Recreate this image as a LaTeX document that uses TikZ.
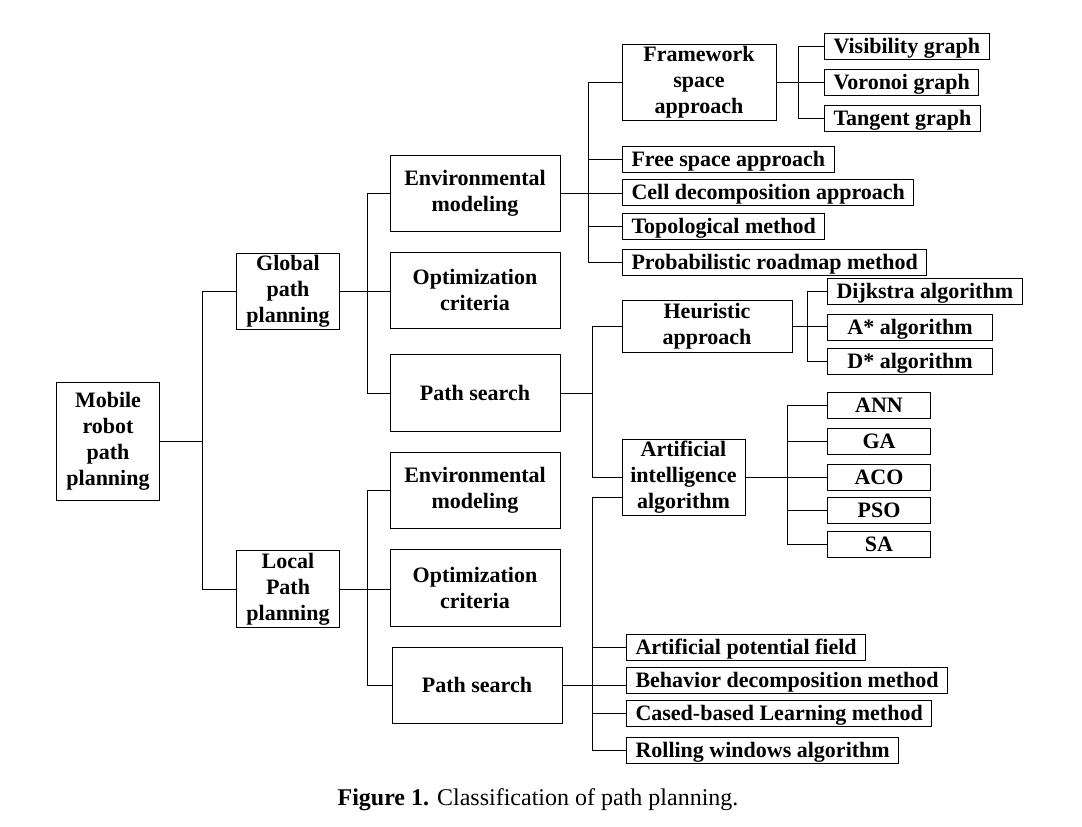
\documentclass[tikz,border=0pt]{standalone}
\usepackage{fontspec}
\setmainfont{Liberation Serif}
\usetikzlibrary{positioning}

\begin{document}
\begin{tikzpicture}[x=1pt,y=-1pt,
    box/.style={draw, line width=1pt, align=center, inner sep=0pt, font=\bfseries\fontsize{22}{26}\selectfont},
    leaf/.style={draw, line width=1pt, anchor=west, inner xsep=9pt, inner ysep=0pt, minimum height=26, text height=19pt, text depth=4pt, font=\bfseries\fontsize{22}{26}\selectfont},
    link/.style={line width=0.9pt}]
    \useasboundingbox (0,0) rectangle (1082,827);

    % first and second level
    \node[box, minimum width=103, minimum height=118] (root) at (108,441) {Mobile\\robot\\path\\planning};
    \node[box, minimum width=103, minimum height=76] (glob) at (288,291) {Global\\path\\planning};
    \node[box, minimum width=103, minimum height=77] (loc) at (288,589) {Local\\Path\\planning};

    % third level
    \node[box, minimum width=170, minimum height=76] (env1) at (475,193) {Environmental\\modeling};
    \node[box, minimum width=170, minimum height=76] (opt1) at (475,290) {Optimization\\criteria};
    \node[box, minimum width=170, minimum height=77] (ps1) at (475,393) {Path search};
    \node[box, minimum width=170, minimum height=76] (env2) at (475,490) {Environmental\\modeling};
    \node[box, minimum width=170, minimum height=77] (opt2) at (475,588) {Optimization\\criteria};
    \node[box, minimum width=170, minimum height=76] (ps2) at (477,685) {Path search};

    % environmental modeling branch
    \node[box, minimum width=154, minimum height=76] (fw) at (699,82) {Framework\\space\\approach};
    \node[leaf] (free) at (622,159) {Free space approach};
    \node[leaf] (cell) at (622,192) {Cell decomposition approach};
    \node[leaf] (topo) at (622,226) {Topological method};
    \node[leaf] (prob) at (622,262) {Probabilistic roadmap method};
    \node[leaf] (vis) at (824,46) {Visibility graph};
    \node[leaf, minimum width=152] (voro) at (824,82) {Voronoi graph};
    \node[leaf, minimum width=152] (tang) at (824,118) {Tangent graph};

    % path search branch
    \node[box, minimum width=170, minimum height=52] (heur) at (707,326) {Heuristic\\approach};
    \node[box, minimum width=123, minimum height=76] (ai) at (683.5,477) {Artificial\\intelligence\\algorithm};
    \node[leaf] (dijk) at (827,291) {Dijkstra algorithm};
    \node[leaf, minimum width=165] (astar) at (827,327) {A* algorithm};
    \node[leaf, minimum width=165] (dstar) at (827,361) {D* algorithm};
    \node[leaf, minimum width=103] (ann) at (827,405) {ANN};
    \node[leaf, minimum width=103] (ga) at (827,441) {GA};
    \node[leaf, minimum width=103] (aco) at (827,477) {ACO};
    \node[leaf, minimum width=103] (pso) at (827,510) {PSO};
    \node[leaf, minimum width=103] (sa) at (827,544) {SA};
    \node[leaf] (apf) at (626,647) {Artificial potential field};
    \node[leaf] (beh) at (626,680) {Behavior decomposition method};
    \node[leaf] (case) at (626,713) {Cased-based Learning method};
    \node[leaf] (roll) at (626,750) {Rolling windows algorithm};

    \node (cap) at (538,800) {\fontsize{24}{28}\selectfont\textbf{Figure 1.} Classification of path planning.};

    % connectors
    \draw[link] (root.east) -- ++(42,0) coordinate (j0) |- (glob.west);
    \draw[link] (j0) |- (loc.west);

    \draw[link] (glob.east) -- (glob.east -| opt1.west);
    \coordinate (j1) at ([xshift=27pt]glob.east);
    \foreach \n in {env1,ps1} \draw[link] (j1) |- (\n.west);

    \draw[link] (loc.east) -- (loc.east -| opt2.west);
    \coordinate (j7) at ([xshift=27pt]loc.east);
    \foreach \n in {env2,ps2} \draw[link] (j7) |- (\n.west);

    \draw[link] (env1.east) -- (env1.east -| cell.west);
    \coordinate (j2) at ([xshift=28pt]env1.east);
    \foreach \n in {fw,free,topo,prob} \draw[link] (j2) |- (\n.west);

    \draw[link] (fw.east) -- (fw.east -| voro.west);
    \coordinate (j3) at ([xshift=22pt]fw.east);
    \foreach \n in {vis,tang} \draw[link] (j3) |- (\n.west);

    \draw[link] (ps1.east) -- ++(32,0) coordinate (j4);
    \foreach \n in {heur,ai} \draw[link] (j4) |- (\n.west);

    \draw[link] (heur.east) -- (heur.east -| astar.west);
    \coordinate (j5) at ([xshift=15pt]heur.east);
    \foreach \n in {dijk,dstar} \draw[link] (j5) |- (\n.west);

    \draw[link] (ai.east) -- (ai.east -| aco.west);
    \coordinate (j6) at ([xshift=42pt]ai.east);
    \foreach \n in {ann,ga,pso,sa} \draw[link] (j6) |- (\n.west);

    \draw[link] (ps2.east) -- (ps2.east -| beh.west);
    \coordinate (j8) at ([xshift=30pt]ps2.east);
    \foreach \n in {apf,case,roll} \draw[link] (j8) |- (\n.west);
    \draw[link] (j8) |- ([yshift=-20pt]ai.west);
\end{tikzpicture}
\end{document}
